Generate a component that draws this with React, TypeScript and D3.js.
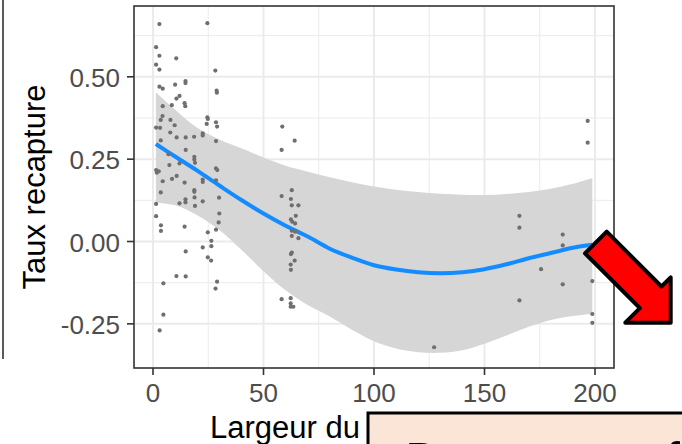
import React from 'react';
import * as d3 from 'd3';

// ---- data ----
const pointX = [1.4,1.4,1.4,1.4,1.7,1.4,1.4, 2.9,2.9,2.9,2.9,3.2,3.5,3.5,2.6,3.5,3.6,3.6,3.0, 4.4,4.4,4.3,4.4,4.7,4.7, 7.0,7.4,7.8,7.9,8.5,8.6, 10.5,10.0,10.6,9.8,10.7,10.7,10.6, 12.0,12.0,12.0, 14.7,14.7,14.3,14.6,14.8,14.8,14.3,14.7,14.7,14.3,14.8,14.8, 18.6,18.7,18.7,19.0,18.7,18.7,18.8,19.0, 22.5,22.5,22.5,22.5,22.5,22.5, 24.6,24.6,24.8,24.3,24.8,24.8, 26.4,26.4,26.3, 28.2,28.8,28.9,28.5,29.0,28.5,28.5,29.1,28.5,29.9,30.0,29.7,28.5,29.0,28.3, 58.5,58.2,58.2,58.2, 64.1,62.8,62.4,62.8,65.8,64.6,62.4,63.0,64.3,62.8,64.3,62.8,65.8,62.8,62.4,64.1,62.3,62.4,62.3,62.3,62.3,63.5, 127.2, 165.8,165.8,165.8,175.6,185.4,185.4,185.4,196.7,196.7,198.8,198.8,198.8];
const pointY = [0.590,0.537,0.346,0.217,0.209,0.114,0.077,
0.660,0.564,0.522,0.470,0.345,0.369,0.307,0.213,0.149,0.049,0.032,-0.270,
0.464,0.411,0.381,0.183,-0.127,-0.222,
0.265,0.232,0.331,0.369,0.414,0.190,
0.556,0.476,0.434,0.353,0.316,0.199,-0.105,
0.442,0.237,0.116,
0.487,0.481,0.420,0.411,0.316,0.278,0.179,0.128,0.119,0.045,-0.030,-0.106,
0.318,0.257,0.249,0.239,0.156,0.151,0.134,0.108,
0.328,0.322,0.188,0.181,0.122,-0.018,
0.663,0.377,0.372,0.357,0.028,-0.048,
0.002,-0.014,-0.058,
0.519,0.458,0.452,0.362,0.349,0.305,0.222,0.217,0.186,0.133,0.085,0.058,0.036,-0.122,-0.143,
0.349,0.278,0.138,-0.175,
0.306,0.156,0.129,0.110,0.110,0.078,0.067,0.060,0.055,0.033,0.030,0.017,0.010,-0.034,-0.038,-0.058,-0.070,-0.086,-0.172,-0.188,-0.198,-0.198,
-0.321,
0.078,0.042,-0.179,-0.084,0.021,-0.012,-0.130,0.366,0.300,-0.120,-0.220,-0.247];

const smoothX = [1.3, 10, 20, 30, 40, 50, 60, 70, 80, 90, 100, 110, 120, 130, 140, 150, 160, 170, 180, 190, 198.8];
const smoothFit = [0.296, 0.258, 0.215, 0.170, 0.126, 0.085, 0.048, 0.015, -0.022, -0.049, -0.072, -0.085, -0.093, -0.096, -0.093, -0.084, -0.069, -0.051, -0.035, -0.019, -0.010];
const smoothUpper = [0.453, 0.400, 0.345, 0.310, 0.283, 0.255, 0.230, 0.212, 0.195, 0.180, 0.167, 0.157, 0.150, 0.145, 0.142, 0.141, 0.144, 0.150, 0.160, 0.175, 0.193];
const smoothLower = [0.118, 0.110, 0.080, 0.035, -0.025, -0.090, -0.148, -0.193, -0.228, -0.268, -0.303, -0.325, -0.336, -0.338, -0.330, -0.310, -0.285, -0.259, -0.238, -0.226, -0.219];

const xTicks = [0, 50, 100, 150, 200];
const xMinor = [25, 75, 125, 175];
const yTicks = [-0.25, 0, 0.25, 0.5];
const yMinor = [-0.125, 0.125, 0.375, 0.625];

const xTitle = "Largeur du cours d'eau";
const yTitle = 'Taux recapture';
const boxText = 'Decrease of';

const FONT = "'Liberation Sans', Arial, Helvetica, sans-serif";

export default function App() {
  const W = 682, H = 444;
  const P = { left: 134, right: 614, top: 6, bottom: 368 };
  const x = d3.scaleLinear().domain([-8.6, 208.6]).range([P.left, P.right]);
  const y = d3.scaleLinear().domain([-0.384, 0.715]).range([P.bottom, P.top]);

  const idx = smoothX.map((_, i) => i);
  const area = d3.area<number>()
    .x(i => x(smoothX[i]))
    .y0(i => y(smoothLower[i]))
    .y1(i => y(smoothUpper[i]))
    .curve(d3.curveCatmullRom);
  const line = d3.line<number>()
    .x(i => x(smoothX[i]))
    .y(i => y(smoothFit[i]))
    .curve(d3.curveCatmullRom);

  const fmtY = (v: number) => d3.format('.2f')(v).replace('−', '-');

  // annotation arrow (pointing down-right)
  const arrow = [
    [606.7, 231.7], [661.5, 286.5], [670.7, 277.3], [670.7, 322.7],
    [625.3, 322.7], [639.9, 308.2], [585, 253.3],
  ];

  return (
    <svg width={W} height={H} style={{ position: 'absolute', left: 0, top: 0, background: '#fff' }}
      fontFamily={FONT}>
      {/* left frame line */}
      <line x1={3} x2={3} y1={0} y2={359} stroke="#5a5a5a" strokeWidth={2} />

      {/* panel */}
      <rect x={P.left} y={P.top} width={P.right - P.left} height={P.bottom - P.top} fill="#fff" />
      {xMinor.map(v => (
        <line key={'xm' + v} x1={x(v)} x2={x(v)} y1={P.top} y2={P.bottom} stroke="#ebebeb" strokeWidth={1} />
      ))}
      {yMinor.map(v => (
        <line key={'ym' + v} x1={P.left} x2={P.right} y1={y(v)} y2={y(v)} stroke="#ebebeb" strokeWidth={1} />
      ))}
      {xTicks.map(v => (
        <line key={'xg' + v} x1={x(v)} x2={x(v)} y1={P.top} y2={P.bottom} stroke="#ebebeb" strokeWidth={2} />
      ))}
      {yTicks.map(v => (
        <line key={'yg' + v} x1={P.left} x2={P.right} y1={y(v)} y2={y(v)} stroke="#ebebeb" strokeWidth={2} />
      ))}

      {/* smooth ribbon and line */}
      <path d={area(idx) || ''} fill="#d6d6d6" />
      <path d={line(idx) || ''} fill="none" stroke="#128cff" strokeWidth={4} />

      {/* points */}
      {pointX.map((v, i) => (
        <circle key={'p' + i} cx={x(v)} cy={y(pointY[i])} r={2.1} fill="#6f6f6f" />
      ))}

      {/* panel border */}
      <rect x={P.left} y={P.top} width={P.right - P.left} height={P.bottom - P.top} fill="none" stroke="#333" strokeWidth={1.6} />

      {/* axes */}
      {yTicks.map(v => (
        <g key={'yt' + v}>
          <line x1={P.left - 7} x2={P.left} y1={y(v)} y2={y(v)} stroke="#333" strokeWidth={1.6} />
          <text x={120} y={y(v) + 10} textAnchor="end" fontSize={26} fill="#4d4d4d">{fmtY(v)}</text>
        </g>
      ))}
      {xTicks.map(v => (
        <g key={'xt' + v}>
          <line x1={x(v)} x2={x(v)} y1={P.bottom} y2={P.bottom + 7} stroke="#333" strokeWidth={1.6} />
          <text x={x(v)} y={402} textAnchor="middle" fontSize={26} fill="#4d4d4d">{v}</text>
        </g>
      ))}

      {/* titles */}
      <text x={210} y={438} fontSize={31} fill="#000">{xTitle}</text>
      <text transform={`translate(45,${(P.top + P.bottom) / 2}) rotate(-90)`} textAnchor="middle" fontSize={31} fill="#000">{yTitle}</text>

      {/* overlay text box (mostly below the visible area) */}
      <rect x={368} y={413} width={330} height={80} fill="#fbe5d6" stroke="#000" strokeWidth={3} />
      <text x={405} y={479} fontSize={51} fill="#000" style={{ fontFamily: FONT }}>{boxText}</text>

      {/* red arrow */}
      <path d={'M' + arrow.map(p => p.join(',')).join('L') + 'Z'} fill="#ff0000" stroke="#000" strokeWidth={4} strokeLinejoin="round" />
    </svg>
  );
}
